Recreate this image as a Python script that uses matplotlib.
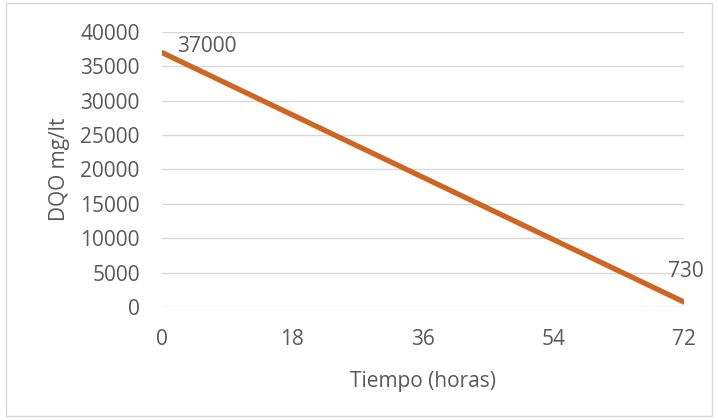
import matplotlib.pyplot as plt
from matplotlib.patches import Rectangle

# datos
horas = [0, 72]
dqo = [37000, 730]
ticks_x = [0, 18, 36, 54, 72]
ticks_y = list(range(0, 40001, 5000))

gris_texto = "#595959"
naranja = "#CD6523"
fs = 15

plt.rcParams["font.family"] = ["Open Sans", "DejaVu Sans"]

fig = plt.figure(figsize=(7.18, 4.2), dpi=100)
ax = fig.add_axes([0.2256, 0.269, 0.727, 0.655])

ax.plot(horas, dqo, color=naranja, lw=3.8, solid_capstyle="round")

ax.annotate(f"{dqo[0]}", (horas[0], dqo[0]), xytext=(11, 4), textcoords="offset points",
            ha="left", va="center", fontsize=fs, color=gris_texto)
ax.annotate(f"{dqo[-1]}", (horas[-1], dqo[-1]), xytext=(1.5, 22), textcoords="offset points",
            ha="center", va="center", fontsize=fs, color=gris_texto)

ax.set_xlim(0, 72)
ax.set_ylim(0, 40000)
ax.set_xticks(ticks_x)
ax.set_yticks(ticks_y)
ax.tick_params(length=0, labelsize=fs, colors=gris_texto)
ax.tick_params(axis="x", pad=16)
ax.tick_params(axis="y", pad=16)
ax.grid(axis="y", color="#d9d9d9", lw=1)
ax.set_axisbelow(True)
for s in ax.spines.values():
    s.set_visible(False)

ax.set_xlabel("Tiempo (horas)", fontsize=fs, color=gris_texto, labelpad=15)
ax.set_ylabel("DQO mg/lt", fontsize=fs, color=gris_texto, labelpad=7)

# borde del área del gráfico
fig.patches.append(Rectangle((0.009, 0.01), 0.982, 0.982, transform=fig.transFigure,
                             fill=False, edgecolor="#d9d9d9", lw=1))

fig.savefig("out.png", dpi=100)
